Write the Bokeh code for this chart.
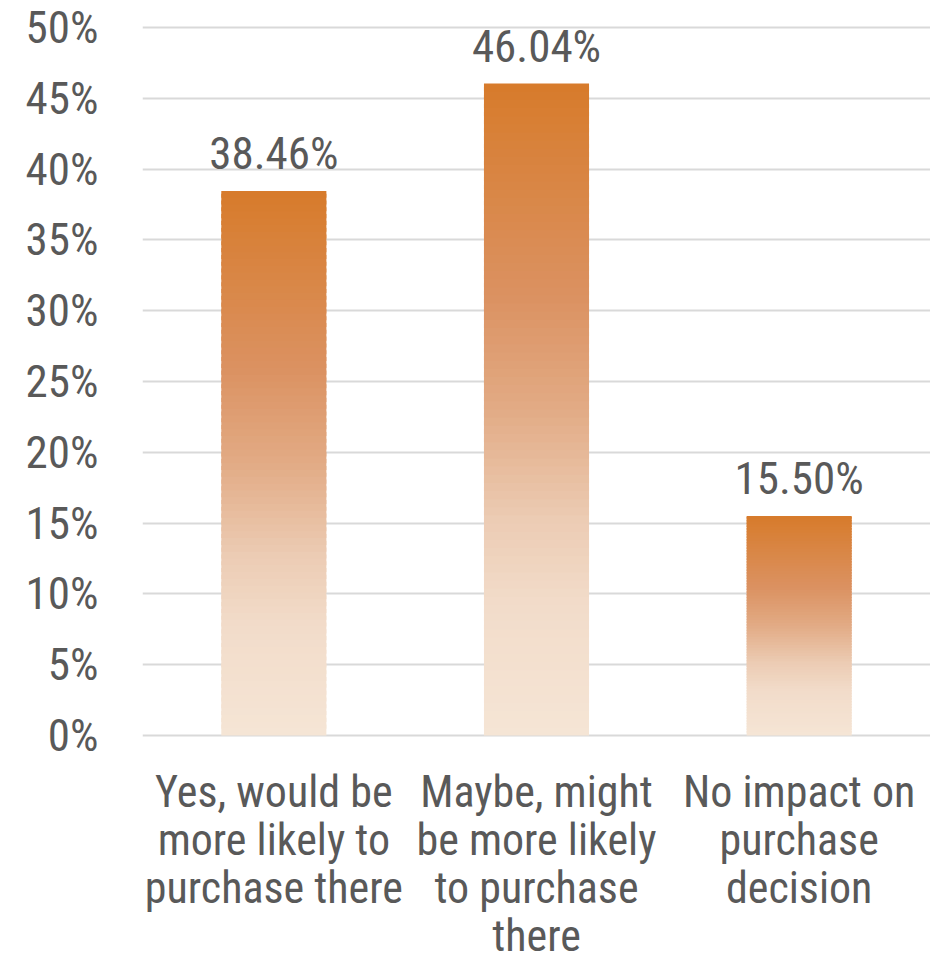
from bokeh.plotting import figure
from bokeh.models import ColumnDataSource, LabelSet, NumeralTickFormatter, FixedTicker, FactorRange, Range1d
from bokeh.core.properties import value
from bokeh.embed import file_html
from bokeh.resources import INLINE

categories = ["Yes, would be\nmore likely to\npurchase there",
              "Maybe, might\nbe more likely\nto purchase\nthere",
              "No impact on\npurchase\ndecision"]
values = [0.3846, 0.4604, 0.1550]
y_ticks = [0.0, 0.05, 0.10, 0.15, 0.20, 0.25, 0.30, 0.35, 0.40, 0.45, 0.50]

FONT = "Roboto Condensed"
TEXT_COLOR = "#595959"

# layout (pixels)
W, H = 930, 962
TOP, LEFT = 25, 142
PAD_TOP = 2            # px of room above the 50% line so it is not clipped
AXIS_PX = 708          # pixels between 0% and 50%
frame_h = H - TOP
y_top_tick = 0.5
y_max = y_top_tick + y_top_tick * PAD_TOP / AXIS_PX
y_min = y_max - y_top_tick * frame_h / AXIS_PX   # extra room below 0 for category labels
FIRST_LINE = 71        # px from 0% line to first label baseline
LINE_STEP = 48         # px between label lines

# gradient stops (fraction of bar height from bottom -> rgb)
stops = [(0.0, (245, 229, 213)), (0.2, (242, 220, 202)), (0.33, (236, 204, 180)),
         (0.5, (226, 171, 133)), (0.67, (219, 146, 98)), (1.0, (215, 123, 43))]

def grad_color(t):
    for (t0, c0), (t1, c1) in zip(stops[:-1], stops[1:]):
        if t <= t1:
            f = (t - t0) / (t1 - t0)
            c = [round(a + (b - a) * f) for a, b in zip(c0, c1)]
            return "#%02x%02x%02x" % tuple(c)
    return "#%02x%02x%02x" % stops[-1][1]

p = figure(width=W, height=H, x_range=FactorRange(*categories), y_range=Range1d(y_min, y_max),
           output_backend="svg", toolbar_location=None,
           min_border_left=LEFT, min_border_right=0, min_border_top=TOP, min_border_bottom=0)
p.outline_line_color = None

N = 80
xs, bottoms, tops, colors = [], [], [], []
for cat, v in zip(categories, values):
    for i in range(N):
        xs.append(cat)
        bottoms.append(v * i / N)
        tops.append(min(v, v * (i + 1.6) / N))
        colors.append(grad_color((i + 0.5) / N))
src = ColumnDataSource(dict(x=xs, bottom=bottoms, top=tops, color=colors))
p.vbar(x="x", bottom="bottom", top="top", width=0.4, fill_color="color", line_color=None, source=src)

lab_src = ColumnDataSource(dict(x=categories, y=values, text=["%.2f%%" % (v * 100) for v in values]))
labels = LabelSet(x="x", y="y", text="text", source=lab_src, text_align="center",
                  text_baseline="alphabetic", y_offset=22, text_font=value(FONT),
                  text_font_size=value("45px"), text_color=value(TEXT_COLOR))
p.add_layout(labels)

# category labels (one centered row per line) drawn below the 0% line
lx, ly, lt, lo = [], [], [], []
for cat in categories:
    for k, line in enumerate(cat.split("\n")):
        lx.append(cat)
        ly.append(0)
        lt.append(line)
        lo.append(-(FIRST_LINE + k * LINE_STEP))
cat_src = ColumnDataSource(dict(x=lx, y=ly, text=lt, off=lo))
cat_labels = LabelSet(x="x", y="y", text="text", source=cat_src, text_align="center",
                      text_baseline="alphabetic", y_offset="off", text_font=value(FONT),
                      text_font_size=value("44px"), text_color=value(TEXT_COLOR))
p.add_layout(cat_labels)
p.xaxis.visible = False

p.yaxis.ticker = FixedTicker(ticks=y_ticks)
p.yaxis.formatter = NumeralTickFormatter(format="0%")
p.yaxis.axis_line_color = None
p.yaxis.major_tick_line_color = None
p.yaxis.minor_tick_line_color = None
p.yaxis.major_label_text_font = FONT
p.yaxis.major_label_text_font_size = "45px"
p.yaxis.major_label_text_color = TEXT_COLOR
p.yaxis.major_label_standoff = 38

p.xgrid.grid_line_color = None
p.ygrid.ticker = FixedTicker(ticks=y_ticks)
p.ygrid.grid_line_color = "#d9d9d9"
p.ygrid.grid_line_width = 2

open("out.html", "w").write(file_html(p, INLINE))
